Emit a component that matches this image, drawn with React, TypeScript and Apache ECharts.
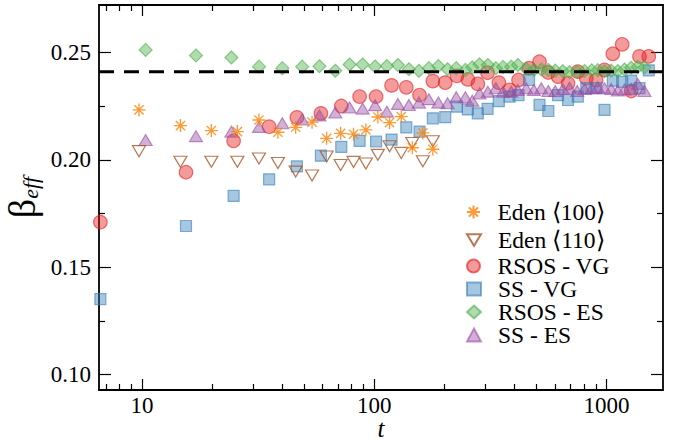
import React, { useEffect, useRef } from 'react';
import * as echarts from 'echarts';

// ---- data ----
const T_EDEN = [9.71, 14.64, 19.9, 25.75, 31.9, 38.5, 45.9, 54.0, 62.4, 71.7, 81.5, 92.1, 103.7, 116.5, 130.8, 145.9, 162.0, 178.9];
const EDEN_100 = [0.2232, 0.2159, 0.2136, 0.2131, 0.2185, 0.2128, 0.2151, 0.2175, 0.2100, 0.2123, 0.2119, 0.2139, 0.2199, 0.2173, 0.2201, 0.2056, 0.2125, 0.2049];
const EDEN_110 = [0.2040, 0.1991, 0.1991, 0.1991, 0.2006, 0.1985, 0.1945, 0.1927, 0.2015, 0.1976, 0.1990, 0.1983, 0.2023, 0.2063, 0.2032, 0.2078, 0.1993, 0.2086];

const T_VG = [6.62, 15.47, 24.81, 35.28, 46.47, 58.96, 72.17, 86.53, 101.9, 118.8, 137.5, 156.8, 178.9, 202.3, 227.0, 253.2, 279.5, 307.7, 344.2, 382.7, 418.4, 464.5, 515.2, 562.3, 619.0, 683.4, 753.2, 819.4, 903.8, 981.3, 1065.6, 1169.5, 1278.8, 1388.5, 1522.1];
const RSOS_VG = [0.1710, 0.1942, 0.2088, 0.2154, 0.2197, 0.2216, 0.2250, 0.2294, 0.2294, 0.2346, 0.2337, 0.2301, 0.2366, 0.2359, 0.2390, 0.2374, 0.2353, 0.2405, 0.2359, 0.2325, 0.2371, 0.2426, 0.2456, 0.2406, 0.2387, 0.2356, 0.2410, 0.2379, 0.2371, 0.2418, 0.2493, 0.2537, 0.2320, 0.2481, 0.2481];
const SS_VG = [0.1352, 0.1692, 0.1832, 0.1909, 0.1969, 0.2019, 0.2060, 0.2088, 0.2085, 0.2094, 0.2151, 0.2131, 0.2193, 0.2198, 0.2247, 0.2234, 0.2216, 0.2237, 0.2273, 0.2294, 0.2301, 0.2371, 0.2255, 0.2227, 0.2301, 0.2278, 0.2294, 0.2333, 0.2333, 0.2232, 0.2368, 0.2362, 0.2368, 0.2333, 0.2416];

const T_ES = [10.37, 17.08, 24.27, 31.92, 40.22, 48.98, 58.08, 68.02, 78.38, 89.16, 100.9, 113.4, 126.5, 141.1, 155.8, 172.0, 189.0, 207.0, 225.6, 247.0, 264.4, 284.3, 308.6, 334.1, 358.8, 389.2, 415.6, 451.7, 487.0, 524.2, 562.3, 602.0, 649.2, 693.8, 748.6, 804.8, 865.3, 918.4, 981.3, 1048.8, 1119.8, 1196.6, 1278.8, 1365.3, 1458.8];
const RSOS_ES = [0.2511, 0.2485, 0.2476, 0.2433, 0.2426, 0.2433, 0.2435, 0.2414, 0.2443, 0.2443, 0.2434, 0.2436, 0.2441, 0.2421, 0.2414, 0.2426, 0.2436, 0.2421, 0.2426, 0.2418, 0.2430, 0.2444, 0.2441, 0.2426, 0.2432, 0.2433, 0.2441, 0.2423, 0.2418, 0.2420, 0.2418, 0.2415, 0.2412, 0.2408, 0.2410, 0.2413, 0.2416, 0.2417, 0.2412, 0.2415, 0.2413, 0.2420, 0.2428, 0.2432, 0.2430];
const SS_ES = [0.2092, 0.2110, 0.2131, 0.2153, 0.2170, 0.2188, 0.2206, 0.2220, 0.2243, 0.2238, 0.2254, 0.2224, 0.2260, 0.2255, 0.2266, 0.2282, 0.2266, 0.2263, 0.2291, 0.2291, 0.2275, 0.2309, 0.2317, 0.2333, 0.2317, 0.2317, 0.2325, 0.2333, 0.2325, 0.2333, 0.2320, 0.2320, 0.2329, 0.2335, 0.2320, 0.2329, 0.2333, 0.2337, 0.2333, 0.2329, 0.2322, 0.2327, 0.2329, 0.2353, 0.2320];

const BETA_REF = 0.241;
const T_RANGE = [6.53, 1753];
const B_RANGE = [0.0929, 0.272];
const X_TICKS = [10, 100, 1000];
const X_MINOR = [7, 8, 9, 20, 30, 40, 50, 60, 70, 80, 90, 200, 300, 400, 500, 600, 700, 800, 900];
const Y_TICKS = [0.1, 0.15, 0.2, 0.25];
const Y_MINOR = [0.125, 0.175, 0.225];

const NAMES = ['Eden \u27E8100\u27E9', 'Eden \u27E8110\u27E9', 'RSOS - VG', 'SS - VG', 'RSOS - ES', 'SS - ES'];

const FONT = "'Liberation Serif', 'Times New Roman', serif";
const lg = (v: number) => Math.log10(v);
const XMIN = lg(T_RANGE[0]);
const XMAX = lg(T_RANGE[1]);

const pts = (ts: number[], bs: number[]) => ts.map((t, i) => [lg(t), bs[i]]);

const STAR = 'path://M0,-10L0,10M-10,0L10,0M-7.07,-7.07L7.07,7.07M-7.07,7.07L7.07,-7.07';
const DOWN_TRI = 'path://M0,0L12,0L6,10Z';

function xAxis(gridIndex: number, position: string, ticks: number[], len: number, showLine: boolean, labels: boolean) {
  return {
    type: 'value', gridIndex, position, min: XMIN, max: XMAX,
    axisLine: { show: showLine, onZero: false, lineStyle: { color: '#000', width: 1.8 } },
    axisTick: { show: true, inside: true, length: len, customValues: ticks.map(lg), lineStyle: { color: '#000', width: 1.2 } },
    axisLabel: labels
      ? { show: true, customValues: ticks.map(lg), formatter: (v: number) => String(Math.round(Math.pow(10, v))), fontFamily: FONT, fontSize: 23, color: '#000', margin: 7, lineHeight: 17 }
      : { show: false },
    splitLine: { show: false },
    ...(labels ? {
      name: 't', nameLocation: 'middle', nameGap: 31, nameMoveOverlap: false,
      nameTextStyle: { fontFamily: FONT, fontSize: 25, fontStyle: 'italic', color: '#000', lineHeight: 14 },
    } : {}),
  };
}

function yAxis(gridIndex: number, position: string, ticks: number[], len: number, showLine: boolean, labels: boolean) {
  return {
    type: 'value', gridIndex, position, min: B_RANGE[0], max: B_RANGE[1],
    axisLine: { show: showLine, onZero: false, lineStyle: { color: '#000', width: 1.8 } },
    axisTick: { show: true, inside: true, length: len, customValues: ticks, lineStyle: { color: '#000', width: 1.2 } },
    axisLabel: labels
      ? { show: true, customValues: ticks, formatter: (v: number) => v.toFixed(2), fontFamily: FONT, fontSize: 23, color: '#000', margin: 8 }
      : { show: false },
    splitLine: { show: false },
    ...(labels ? {
      name: '{b|\u03B2}{s|eff}', nameLocation: 'middle', nameGap: 58, nameRotate: 90, nameMoveOverlap: false,
      nameTextStyle: {
        rich: {
          b: { fontFamily: FONT, fontSize: 38, color: '#000' },
          s: { fontFamily: FONT, fontSize: 22, fontStyle: 'italic', color: '#000', padding: [16, 0, 0, 0] },
        },
      },
    } : {}),
  };
}

const GRID = { left: 99, right: 13, top: 5, bottom: 50, containLabel: false, outerBoundsMode: 'none' };

const LEGEND_TOPS = [200, 228, 254, 277, 300, 323];

export default function App() {
  const ref = useRef<HTMLDivElement>(null);
  useEffect(() => {
    const chart = echarts.init(ref.current!, null, { renderer: 'svg' });
    const option: any = {
      animation: false,
      backgroundColor: '#fff',
      grid: [{ ...GRID }, { ...GRID }],
      xAxis: [
        xAxis(0, 'bottom', X_TICKS, 11, true, true),
        xAxis(0, 'top', X_TICKS, 11, true, false),
        xAxis(1, 'bottom', X_MINOR, 6, false, false),
        xAxis(1, 'top', X_MINOR, 6, false, false),
      ],
      yAxis: [
        yAxis(0, 'left', Y_TICKS, 12, true, true),
        yAxis(0, 'right', Y_TICKS, 12, true, false),
        yAxis(1, 'left', Y_MINOR, 6, false, false),
        yAxis(1, 'right', Y_MINOR, 6, false, false),
      ],
      legend: NAMES.map((n, i) => ({
        data: [i === 1 ? { name: n, icon: DOWN_TRI } : n], orient: 'vertical', left: 466, top: LEGEND_TOPS[i],
        itemWidth: 14, itemHeight: 13, selectedMode: false, padding: 0,
        textStyle: { fontFamily: FONT, fontSize: 23.5, color: '#000', padding: [0, 0, 0, 12], lineHeight: 18 },
      })),
      series: [
        {
          name: NAMES[2], type: 'scatter', xAxisIndex: 0, yAxisIndex: 0, z: 2,
          symbol: 'circle', symbolSize: 13.5, data: pts(T_VG, RSOS_VG),
          itemStyle: { color: 'rgba(228,26,28,0.55)', borderColor: 'rgba(228,26,28,0.75)', borderWidth: 1.2 },
        },
        {
          name: NAMES[3], type: 'scatter', xAxisIndex: 0, yAxisIndex: 0, z: 2,
          symbol: 'rect', symbolSize: 11, data: pts(T_VG, SS_VG),
          itemStyle: { color: 'rgba(55,126,184,0.55)', borderColor: 'rgba(55,126,184,0.75)', borderWidth: 1.2 },
        },
        {
          name: NAMES[4], type: 'scatter', xAxisIndex: 0, yAxisIndex: 0, z: 2,
          symbol: 'diamond', symbolSize: 13, data: pts(T_ES, RSOS_ES),
          itemStyle: { color: 'rgba(77,175,74,0.55)', borderColor: 'rgba(77,175,74,0.75)', borderWidth: 1.2 },
        },
        {
          name: NAMES[5], type: 'scatter', xAxisIndex: 0, yAxisIndex: 0, z: 2,
          symbol: 'triangle', symbolSize: [13, 11], data: pts(T_ES, SS_ES),
          itemStyle: { color: 'rgba(152,78,163,0.55)', borderColor: 'rgba(152,78,163,0.75)', borderWidth: 1.2 },
        },
        {
          name: NAMES[1], type: 'scatter', xAxisIndex: 0, yAxisIndex: 0, z: 3,
          symbol: 'triangle', symbolRotate: 180, symbolSize: [13, 11], data: pts(T_EDEN, EDEN_110),
          itemStyle: { color: 'rgba(255,255,255,0)', borderColor: '#a65628', borderWidth: 1.2 },
        },
        {
          name: NAMES[0], type: 'scatter', xAxisIndex: 0, yAxisIndex: 0, z: 4,
          symbol: STAR, symbolSize: 13, data: pts(T_EDEN, EDEN_100),
          itemStyle: { color: 'rgba(255,255,255,0)', borderColor: '#ff7f00', borderWidth: 1.3 },
        },
        {
          name: 'ref', type: 'line', xAxisIndex: 0, yAxisIndex: 0, z: 6,
          symbol: 'none', silent: true,
          data: [[XMIN, BETA_REF], [XMAX, BETA_REF]],
          lineStyle: { color: '#000', width: 3, type: [15, 10] },
        },
      ],
    };
    chart.setOption(option);
    return () => chart.dispose();
  }, []);
  return <div ref={ref} style={{ position: 'fixed', left: 0, top: 0, width: 676, height: 440 }} />;
}
